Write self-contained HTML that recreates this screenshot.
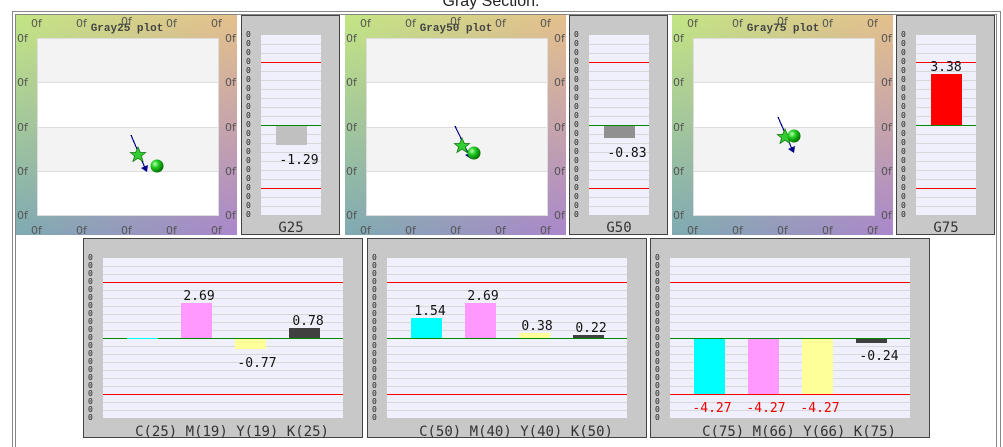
<!DOCTYPE html>
<html><head><meta charset="utf-8"><style>
html,body{margin:0;padding:0;background:#fff;width:1003px;height:447px;overflow:hidden}
svg{display:block}
line,path.g,rect.c{shape-rendering:crispEdges}
.m{font-family:"Liberation Mono","DejaVu Sans Mono",monospace}
.t0{font-family:"DejaVu Sans Mono","Liberation Mono",monospace;font-size:8px;fill:#222}
.of{font-family:"DejaVu Sans","Liberation Sans",sans-serif;font-size:11px;fill:#555}
.v{font-family:"DejaVu Sans Mono","Liberation Mono",monospace;font-size:13px;fill:#111}
.cap{font-family:"DejaVu Sans Mono","Liberation Mono",monospace;font-size:14px;fill:#333}
</style></head><body>
<svg width="1003" height="447" viewBox="0 0 1003 447" xmlns="http://www.w3.org/2000/svg">
<defs>
<linearGradient id="gt" x1="0" x2="1" y1="0" y2="0"><stop offset="0" stop-color="#c4e684"/><stop offset="1" stop-color="#e6c08c"/></linearGradient>
<linearGradient id="gb" x1="0" x2="1" y1="0" y2="0"><stop offset="0" stop-color="#7eaab2"/><stop offset="1" stop-color="#aa86cc"/></linearGradient>
<linearGradient id="gv" x1="0" x2="0" y1="0" y2="1"><stop offset="0" stop-color="#fff" stop-opacity="0"/><stop offset="1" stop-color="#fff" stop-opacity="1"/></linearGradient>
<mask id="mk" maskContentUnits="objectBoundingBox"><rect x="0" y="0" width="1" height="1" fill="url(#gv)"/></mask>
<radialGradient id="ball" cx="0.35" cy="0.35" r="0.7"><stop offset="0" stop-color="#b8ffb0"/><stop offset="0.4" stop-color="#22cc22"/><stop offset="1" stop-color="#006600"/></radialGradient>
<g id="sc">
<rect x="16" y="15" width="221" height="220" fill="url(#gt)"/>
<rect x="16" y="15" width="221" height="220" fill="url(#gb)" mask="url(#mk)"/>
<rect x="37.5" y="38.5" width="181" height="177" fill="#fff" stroke="#ddd"/>
<rect x="38" y="39" width="180" height="43" fill="#f3f3f3"/>
<rect x="38" y="127" width="180" height="44" fill="#f3f3f3"/>
<line x1="38" x2="218" y1="82.5" y2="82.5" stroke="#ddd"/>
<line x1="38" x2="218" y1="127.5" y2="127.5" stroke="#ddd"/>
<line x1="38" x2="218" y1="171.5" y2="171.5" stroke="#ddd"/>
<text class="of" x="31" y="27">0f</text><text class="of" x="76" y="27">0f</text><text class="of" x="121" y="25">0f</text><text class="of" x="166" y="27">0f</text><text class="of" x="211" y="27">0f</text>
<text class="of" x="17" y="42">0f</text><text class="of" x="17" y="86">0f</text><text class="of" x="17" y="131">0f</text><text class="of" x="17" y="175">0f</text><text class="of" x="17" y="219">0f</text>
<text class="of" x="225" y="42">0f</text><text class="of" x="225" y="86">0f</text><text class="of" x="225" y="131">0f</text><text class="of" x="225" y="175">0f</text><text class="of" x="225" y="219">0f</text>
<text class="of" x="31" y="234">0f</text><text class="of" x="76" y="234">0f</text><text class="of" x="121" y="234">0f</text><text class="of" x="166" y="234">0f</text><text class="of" x="211" y="234">0f</text>
</g>
<g id="bp">
<rect x="241.5" y="15.5" width="98" height="219" fill="#c8c8c8" stroke="#444"/>
<rect x="261" y="35" width="60" height="180" fill="#f0f0fc"/>
<path class="g" d="M261 44.5H321M261 53.5H321M261 71.5H321M261 80.5H321M261 89.5H321M261 98.5H321M261 107.5H321M261 116.5H321M261 134.5H321M261 143.5H321M261 152.5H321M261 161.5H321M261 170.5H321M261 179.5H321M261 197.5H321M261 206.5H321" stroke="#d8d8d8"/>
<line x1="261" x2="321" y1="62.5" y2="62.5" stroke="#f00"/>
<line x1="261" x2="321" y1="188.5" y2="188.5" stroke="#f00"/>
<line x1="261" x2="321" y1="125.5" y2="125.5" stroke="#080"/>
<text class="t0" x="246" y="37"><tspan x="246">0</tspan><tspan x="246" dy="9">0</tspan><tspan x="246" dy="9">0</tspan><tspan x="246" dy="9">0</tspan><tspan x="246" dy="9">0</tspan><tspan x="246" dy="9">0</tspan><tspan x="246" dy="9">0</tspan><tspan x="246" dy="9">0</tspan><tspan x="246" dy="9">0</tspan><tspan x="246" dy="9">0</tspan><tspan x="246" dy="9">0</tspan><tspan x="246" dy="9">0</tspan><tspan x="246" dy="9">0</tspan><tspan x="246" dy="9">0</tspan><tspan x="246" dy="9">0</tspan><tspan x="246" dy="9">0</tspan><tspan x="246" dy="9">0</tspan><tspan x="246" dy="9">0</tspan><tspan x="246" dy="9">0</tspan><tspan x="246" dy="9">0</tspan><tspan x="246" dy="9">0</tspan></text>
</g>
<g id="bb">
<rect x="83.5" y="238.5" width="279" height="199" fill="#c8c8c8" stroke="#444"/>
<rect x="103" y="258" width="240" height="160" fill="#f0f0fc"/>
<path class="g" d="M103 266.5H343M103 274.5H343M103 290.5H343M103 298.5H343M103 306.5H343M103 314.5H343M103 322.5H343M103 330.5H343M103 346.5H343M103 354.5H343M103 362.5H343M103 370.5H343M103 378.5H343M103 386.5H343M103 402.5H343M103 410.5H343" stroke="#d8d8d8"/>
<line x1="103" x2="343" y1="282.5" y2="282.5" stroke="#f00"/>
<line x1="103" x2="343" y1="394.5" y2="394.5" stroke="#f00"/>
<line x1="103" x2="343" y1="338.5" y2="338.5" stroke="#080"/>
<text class="t0" x="88" y="260"><tspan x="88">0</tspan><tspan x="88" dy="8">0</tspan><tspan x="88" dy="8">0</tspan><tspan x="88" dy="8">0</tspan><tspan x="88" dy="8">0</tspan><tspan x="88" dy="8">0</tspan><tspan x="88" dy="8">0</tspan><tspan x="88" dy="8">0</tspan><tspan x="88" dy="8">0</tspan><tspan x="88" dy="8">0</tspan><tspan x="88" dy="8">0</tspan><tspan x="88" dy="8">0</tspan><tspan x="88" dy="8">0</tspan><tspan x="88" dy="8">0</tspan><tspan x="88" dy="8">0</tspan><tspan x="88" dy="8">0</tspan><tspan x="88" dy="8">0</tspan><tspan x="88" dy="8">0</tspan><tspan x="88" dy="8">0</tspan><tspan x="88" dy="8">0</tspan><tspan x="88" dy="8">0</tspan></text>
</g>
<polygon id="star" points="0,-8 2.4,-2.5 7.6,-2.5 3.4,1 5,6.5 0,3.2 -5,6.5 -3.4,1 -7.6,-2.5 -2.4,-2.5" fill="#3c3" stroke="#171" stroke-width="0.8"/>
</defs>

<text x="491" y="6" text-anchor="middle" font-family="Liberation Sans,sans-serif" font-size="16" fill="#222">Gray Section:</text>
<rect x="12.5" y="11.5" width="988" height="440" fill="none" stroke="#888"/>
<rect x="15.5" y="14.5" width="981" height="440" fill="none" stroke="#888"/>

<use href="#sc"/>
<use href="#sc" transform="translate(329,0)"/>
<use href="#sc" transform="translate(656,0)"/>
<text class="m" x="127" y="31" text-anchor="middle" font-size="11" font-weight="bold" fill="#444">Gray25 plot</text>
<text class="m" x="456" y="31" text-anchor="middle" font-size="11" font-weight="bold" fill="#444">Gray50 plot</text>
<text class="m" x="783" y="31" text-anchor="middle" font-size="11" font-weight="bold" fill="#444">Gray75 plot</text>

<line x1="131" y1="135" x2="145" y2="168" stroke="#008" stroke-width="1.2"/><polygon points="147,172 141,168 148,165" fill="#008"/>
<use href="#star" x="138" y="155"/><circle cx="157" cy="166" r="6.5" fill="url(#ball)"/>
<line x1="455" y1="126" x2="469" y2="155" stroke="#008" stroke-width="1.2"/><polygon points="471,159 465,155 472,152" fill="#008"/>
<use href="#star" x="462" y="146"/><circle cx="474" cy="153" r="6.5" fill="url(#ball)"/>
<line x1="778" y1="117" x2="792" y2="149" stroke="#008" stroke-width="1.2"/><polygon points="794,153 788,149 795,146" fill="#008"/>
<use href="#star" x="785" y="137"/><circle cx="794" cy="136" r="6.5" fill="url(#ball)"/>

<use href="#bp"/>
<use href="#bp" transform="translate(328,0)"/>
<use href="#bp" transform="translate(655,0)"/>
<rect x="276" y="126" width="31" height="19" fill="#c0c0c0"/>
<text class="v" x="299" y="164" text-anchor="middle">-1.29</text>
<text class="cap" x="291" y="232" text-anchor="middle">G25</text>
<rect x="604" y="126" width="31" height="12" fill="#909090"/>
<text class="v" x="627" y="157" text-anchor="middle">-0.83</text>
<text class="cap" x="619" y="232" text-anchor="middle">G50</text>
<rect x="931" y="74" width="31" height="51" fill="#f00"/>
<text class="v" x="946" y="71" text-anchor="middle">3.38</text>
<text class="cap" x="946" y="232" text-anchor="middle">G75</text>

<use href="#bb"/>
<use href="#bb" transform="translate(284,0)"/>
<use href="#bb" transform="translate(567,0)"/>

<rect x="127" y="338" width="31" height="1" fill="#0ff"/>
<rect x="181" y="303" width="31" height="35" fill="#f9f"/>
<text class="v" x="199" y="300" text-anchor="middle">2.69</text>
<rect x="235" y="339" width="31" height="10" fill="#ff9"/>
<text class="v" x="257" y="367" text-anchor="middle">-0.77</text>
<rect x="289" y="328" width="31" height="10" fill="#404040"/>
<text class="v" x="308" y="325" text-anchor="middle">0.78</text>
<text class="cap" x="232" y="436" text-anchor="middle">C(25) M(19) Y(19) K(25)</text>

<rect x="411" y="318" width="31" height="20" fill="#0ff"/>
<text class="v" x="430" y="315" text-anchor="middle">1.54</text>
<rect x="465" y="303" width="31" height="35" fill="#f9f"/>
<text class="v" x="483" y="300" text-anchor="middle">2.69</text>
<rect x="519" y="333" width="31" height="5" fill="#ff9"/>
<text class="v" x="537" y="330" text-anchor="middle">0.38</text>
<rect x="573" y="335" width="31" height="3" fill="#404040"/>
<text class="v" x="591" y="332" text-anchor="middle">0.22</text>
<text class="cap" x="516" y="436" text-anchor="middle">C(50) M(40) Y(40) K(50)</text>

<rect x="694" y="339" width="31" height="55" fill="#0ff"/>
<text class="v" x="712" y="412" text-anchor="middle" style="fill:#e00">-4.27</text>
<rect x="748" y="339" width="31" height="55" fill="#f9f"/>
<text class="v" x="766" y="412" text-anchor="middle" style="fill:#e00">-4.27</text>
<rect x="802" y="339" width="31" height="55" fill="#ff9"/>
<text class="v" x="820" y="412" text-anchor="middle" style="fill:#e00">-4.27</text>
<rect x="856" y="339" width="31" height="4" fill="#404040"/>
<text class="v" x="879" y="360" text-anchor="middle">-0.24</text>
<text class="cap" x="799" y="436" text-anchor="middle">C(75) M(66) Y(66) K(75)</text>
</svg>
</body></html>
